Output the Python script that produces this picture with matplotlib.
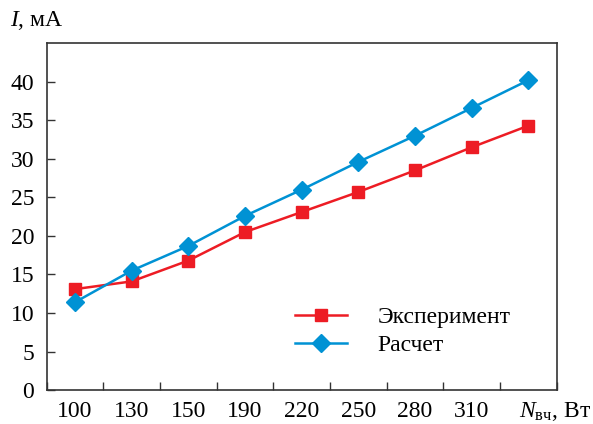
import numpy as np
import matplotlib
matplotlib.use('Agg')
import matplotlib.pyplot as plt

plt.rcParams['font.family'] = ['Liberation Serif', 'DejaVu Serif']
plt.rcParams['mathtext.fontset'] = 'custom'
plt.rcParams['mathtext.rm'] = 'Liberation Serif'
plt.rcParams['mathtext.it'] = 'Liberation Serif:italic'

power_labels = ['100', '130', '150', '190', '220', '250', '280', '310']
experiment = [13.1, 14.1, 16.8, 20.5, 23.1, 25.7, 28.5, 31.5, 34.3]
calculated = [11.4, 15.5, 18.7, 22.6, 26.0, 29.6, 33.0, 36.6, 40.2]
y_ticks = [0, 5, 10, 15, 20, 25, 30, 35, 40]

red = '#ED1C24'
blue = '#0092D4'
frame = '#333333'
fs = 17

fig = plt.figure(figsize=(5.93, 4.24), dpi=100)
ax = fig.add_axes([0.0787, 0.080, 0.86, 0.818])

x = np.arange(len(experiment))
ax.plot(x, experiment, color=red, linewidth=1.8, marker='s', markersize=9,
        label='Эксперимент')
ax.plot(x, calculated, color=blue, linewidth=1.8, marker='D', markersize=9,
        label='Расчет')

ax.set_xlim(-0.5, len(experiment) - 0.5)
ax.set_ylim(0, 45)

# ticks between categories, labels in the middle
ax.set_xticks(np.arange(len(experiment) + 1) - 0.5)
ax.set_xticklabels([])
ax.set_xticks(x[:len(power_labels)], minor=True)
ax.set_xticklabels(power_labels, minor=True)
ax.tick_params(axis='x', which='major', direction='in', length=6, width=1, color=frame)
ax.tick_params(axis='x', which='minor', length=0, pad=8, labelsize=fs)
ax.text(len(power_labels) - 0.17, -0.03, r'$N_{\mathrm{вч}}$, Вт', transform=ax.get_xaxis_transform(),
        ha='left', va='top', fontsize=fs)

ax.set_yticks(y_ticks)
ax.tick_params(axis='y', direction='in', length=6, width=1, color=frame, pad=9, labelsize=fs)

for s in ax.spines.values():
    s.set_color(frame)
    s.set_linewidth(1.2)

fig.text(0.017, 0.952, '$I$, мА', ha='left', va='center', fontsize=fs)

ax.legend(loc='upper left', bbox_to_anchor=(0.487, 0.24), frameon=False, fontsize=fs,
          handlelength=2.2, handletextpad=1.3, labelspacing=0.25, borderpad=0,
          borderaxespad=0)

fig.savefig('out.png', dpi=100)
